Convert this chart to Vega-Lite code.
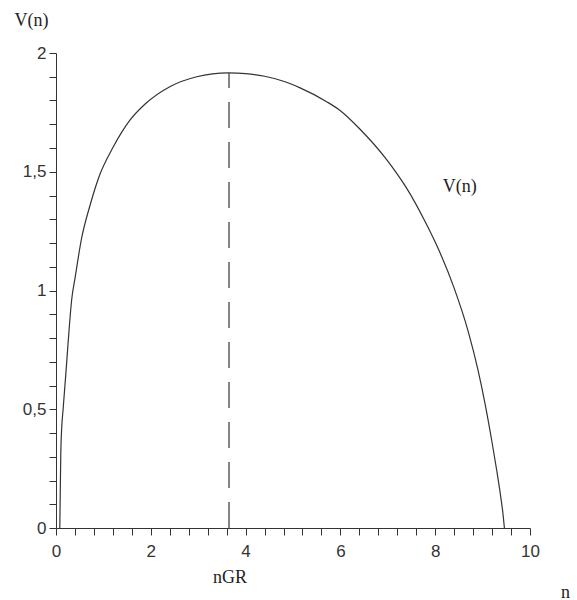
{
  "$schema": "https://vega.github.io/schema/vega-lite/v6.json",
  "autosize": "none",
  "width": 474,
  "height": 475,
  "padding": {"left": 56, "top": 53, "right": 47, "bottom": 72},
  "background": "white",
  "config": {"view": {"stroke": null}},
  "datasets": {
    "curve": [
      {"n": 0.08, "V": 0}, {"n": 0.09, "V": 0.15}, {"n": 0.1, "V": 0.3}, {"n": 0.12, "V": 0.42},
      {"n": 0.15, "V": 0.5}, {"n": 0.2, "V": 0.63}, {"n": 0.23, "V": 0.71}, {"n": 0.28, "V": 0.845},
      {"n": 0.33, "V": 0.96}, {"n": 0.4, "V": 1.05}, {"n": 0.54, "V": 1.22}, {"n": 0.72, "V": 1.36},
      {"n": 0.9, "V": 1.475}, {"n": 1.21, "V": 1.605}, {"n": 1.56, "V": 1.717}, {"n": 1.88, "V": 1.785},
      {"n": 2.41, "V": 1.859}, {"n": 2.97, "V": 1.9}, {"n": 3.3, "V": 1.912}, {"n": 3.64, "V": 1.916},
      {"n": 4.0, "V": 1.913}, {"n": 4.4, "V": 1.902}, {"n": 4.8, "V": 1.881}, {"n": 5.15, "V": 1.853},
      {"n": 5.71, "V": 1.795}, {"n": 6.0, "V": 1.757}, {"n": 6.41, "V": 1.68}, {"n": 6.98, "V": 1.55},
      {"n": 7.2, "V": 1.49}, {"n": 7.4, "V": 1.43}, {"n": 7.8, "V": 1.285}, {"n": 8.1, "V": 1.16},
      {"n": 8.4, "V": 1.01}, {"n": 8.7, "V": 0.825}, {"n": 8.9, "V": 0.668}, {"n": 9.05, "V": 0.525},
      {"n": 9.2, "V": 0.36}, {"n": 9.3, "V": 0.24}, {"n": 9.38, "V": 0.135}, {"n": 9.43, "V": 0.06},
      {"n": 9.46, "V": 0}
    ],
    "nGR": [{"n": 3.65, "V": 0}, {"n": 3.65, "V": 1.916}],
    "labels": [
      {"label": "V(n)", "n": 8.52, "V": 1.436},
      {"label": "nGR", "n": 3.67, "V": -0.21}
    ]
  },
  "layer": [
    {
      "data": {"name": "curve"},
      "mark": {"type": "line", "color": "#333333", "strokeWidth": 1.2, "interpolate": "monotone"},
      "encoding": {
        "x": {
          "field": "n", "type": "quantitative",
          "scale": {"domain": [0, 10], "nice": false, "zero": false},
          "axis": {
            "values": [0, 0.4, 0.8, 1.2, 1.6, 2, 2.4, 2.8, 3.2, 3.6, 4, 4.4, 4.8, 5.2, 5.6, 6, 6.4, 6.8, 7.2, 7.6, 8, 8.4, 8.8, 9.2, 9.6, 10],
            "tickCount": 100,
            "labelExpr": "abs(datum.value - round(datum.value/2)*2) < 0.001 ? format(datum.value, '~g') : ''",
            "grid": false,
            "domainColor": "#333333",
            "tickColor": "#333333",
            "tickSize": 7,
            "labelFont": "Liberation Sans",
            "labelFontSize": 17,
            "labelColor": "#333333",
            "labelPadding": 8,
            "labelFlush": false,
            "labelOverlap": false,
            "title": "n",
            "titleFont": "Liberation Serif",
            "titleFontSize": 18,
            "titleFontWeight": "normal",
            "titleColor": "#222222",
            "titleX": 509,
            "titleY": 64,
            "titleAlign": "center",
            "titleBaseline": "middle"
          }
        },
        "y": {
          "field": "V", "type": "quantitative",
          "scale": {"domain": [0, 2], "nice": false, "zero": false},
          "axis": {
            "values": [0, 0.1, 0.2, 0.3, 0.4, 0.5, 0.6, 0.7, 0.8, 0.9, 1, 1.1, 1.2, 1.3, 1.4, 1.5, 1.6, 1.7, 1.8, 1.9, 2],
            "tickCount": 100,
            "labelExpr": "abs(datum.value*2 - round(datum.value*2)) < 0.001 ? replace(format(datum.value, '~g'), '.', ',') : ''",
            "grid": false,
            "domainColor": "#333333",
            "tickColor": "#333333",
            "tickSize": 7,
            "labelFont": "Liberation Sans",
            "labelFontSize": 17,
            "labelColor": "#333333",
            "labelPadding": 3,
            "labelFlush": false,
            "labelOverlap": false,
            "title": "V(n)",
            "titleFont": "Liberation Serif",
            "titleFontSize": 18,
            "titleFontWeight": "normal",
            "titleColor": "#222222",
            "titleAngle": 0,
            "titleX": -25,
            "titleY": -33,
            "titleAlign": "center",
            "titleBaseline": "middle"
          }
        }
      }
    },
    {
      "data": {"name": "nGR"},
      "mark": {"type": "line", "color": "#444444", "strokeWidth": 1.3, "strokeDash": [26, 14]},
      "encoding": {
        "x": {"field": "n", "type": "quantitative"},
        "y": {"field": "V", "type": "quantitative", "sort": null}
      }
    },
    {
      "data": {"name": "labels"},
      "mark": {"type": "text", "font": "Liberation Serif", "fontSize": 18, "color": "#222222", "align": "center", "baseline": "middle", "clip": false},
      "encoding": {
        "x": {"field": "n", "type": "quantitative"},
        "y": {"field": "V", "type": "quantitative"},
        "text": {"field": "label"}
      }
    }
  ]
}
